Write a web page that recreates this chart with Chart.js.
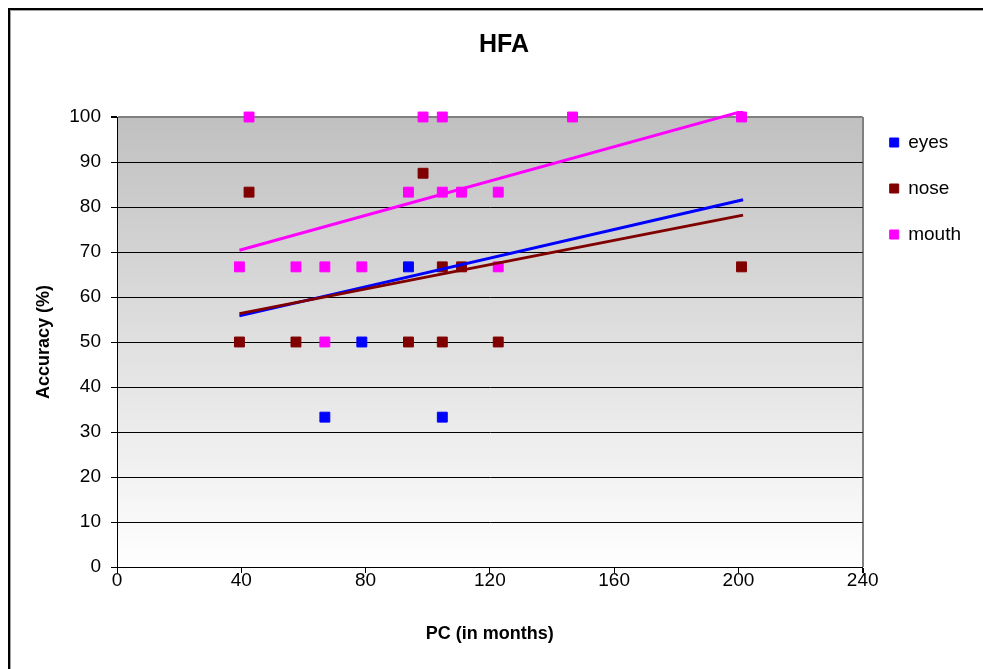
<!DOCTYPE html>
<html>
<head>
<meta charset="utf-8">
<script src="https://cdn.jsdelivr.net/npm/chart.js@4.4.0/dist/chart.umd.min.js"></script>
<style>
  html, body { margin: 0; padding: 0; background: #fff; overflow: hidden; }
  #frame {
    position: absolute; left: 8px; top: 8px; width: 2000px; height: 2000px;
    border-left: 2px solid #000; border-top: 2px solid #000;
    box-shadow: inset 1px 1px 0 #a0a0a0;
  }
  #wrap { position: absolute; left: 0; top: 0; width: 983px; height: 669px; }
</style>
</head>
<body>
<div id="frame"></div>
<div id="wrap"><canvas id="chart"></canvas></div>
<script>
// --- Data ---
const seriesNames = ['eyes', 'nose', 'mouth'];
const seriesColors = ['#0000ff', '#800000', '#ff00ff'];

const eyesX = [66.9, 78.8, 93.8, 104.7];
const eyesY = [33.3, 50, 66.7, 33.3];

const noseX = [39.4, 42.5, 57.6, 93.8, 98.5, 104.7, 104.7, 110.9, 122.7, 201];
const noseY = [50, 83.3, 50, 50, 87.5, 66.7, 50, 66.7, 50, 66.7];

const mouthX = [39.4, 42.5, 57.6, 66.9, 66.9, 78.8, 93.8, 98.5, 104.7, 104.7, 110.9, 122.7, 122.7, 146.6, 201];
const mouthY = [66.7, 100, 66.7, 66.7, 50, 66.7, 83.3, 100, 100, 83.3, 83.3, 83.3, 66.7, 100, 100];

// linear trendlines: end points as they appear in the picture
const trendX = [39.4, 201.5];
const eyesTrendY = [55.8, 81.6];
const noseTrendY = [56.3, 78.2];
const mouthTrendY = [70.4, 101.3];

const xTicks = [0, 40, 80, 120, 160, 200, 240];
const yTicks = [0, 10, 20, 30, 40, 50, 60, 70, 80, 90, 100];

function toPoints(xs, ys) {
    return xs.map((x, i) => ({ x: x, y: ys[i] }));
}

// --- Plot area gradient ---
const plotBackground = {
    id: 'plotBackground',
    beforeDraw(chart) {
        const { ctx, chartArea: a } = chart;
        const g = ctx.createLinearGradient(0, a.top, 0, a.bottom);
        g.addColorStop(0, '#c0c0c0');
        g.addColorStop(1, '#ffffff');
        ctx.save();
        ctx.fillStyle = g;
        ctx.fillRect(a.left, a.top, a.width, a.height);
        ctx.restore();
    }
};

Chart.defaults.font.family = 'Arial, "Liberation Sans", sans-serif';
Chart.defaults.color = '#000';

function pointSet(i, xs, ys, order) {
    return {
        label: seriesNames[i],
        data: toPoints(xs, ys),
        backgroundColor: seriesColors[i],
        borderColor: seriesColors[i],
        borderWidth: 1,
        pointStyle: 'rect',
        pointRadius: 7,
        pointHoverRadius: 7,
        showLine: false,
        order: order,
        clip: false
    };
}

function trendSet(i, ys, order) {
    return {
        label: seriesNames[i] + ' trend',
        data: toPoints(trendX, ys),
        borderColor: seriesColors[i],
        backgroundColor: seriesColors[i],
        borderWidth: 3,
        pointRadius: 0,
        showLine: true,
        order: order,
        clip: 6
    };
}

const ctx = document.getElementById('chart').getContext('2d');
new Chart(ctx, {
    type: 'scatter',
    data: {
        datasets: [
            pointSet(0, eyesX, eyesY, 3),
            pointSet(1, noseX, noseY, 2),
            pointSet(2, mouthX, mouthY, 1),
            trendSet(0, eyesTrendY, -1),
            trendSet(1, noseTrendY, -2),
            trendSet(2, mouthTrendY, -3)
        ]
    },
    options: {
        responsive: true,
        maintainAspectRatio: false,
        animation: false,
        layout: { padding: { left: 37, right: 12, top: 0, bottom: 0 } },
        scales: {
            x: {
                type: 'linear',
                min: 0,
                max: 240,
                afterBuildTicks: (scale) => { scale.ticks = xTicks.map(v => ({ value: v })); },
                afterFit: (scale) => { scale.height = 102; },
                ticks: { font: { size: 19 }, padding: -4, maxRotation: 0 },
                grid: {
                    color: (c) => (c.tick && c.tick.value === 240 ? '#808080' : 'rgba(0,0,0,0)'),
                    lineWidth: (c) => (c.tick && c.tick.value === 240 ? 2 : 1),
                    tickColor: '#000',
                    tickLength: 6
                },
                border: { color: '#000', width: 1 },
                title: {
                    display: true,
                    text: 'PC (in months)',
                    font: { size: 18, weight: 'bold' },
                    padding: { top: 0, bottom: 24 }
                }
            },
            y: {
                type: 'linear',
                min: 0,
                max: 100,
                afterBuildTicks: (scale) => { scale.ticks = yTicks.map(v => ({ value: v })); },
                afterFit: (scale) => { scale.width = 80; },
                ticks: { font: { size: 19 }, padding: 10 },
                grid: {
                    color: (c) => (c.tick && c.tick.value === 100 ? '#808080' : '#000'),
                    lineWidth: (c) => (c.tick && c.tick.value === 100 ? 2 : 1),
                    tickColor: '#000',
                    tickLength: 6
                },
                border: { color: '#000', width: 1 },
                title: {
                    display: true,
                    text: 'Accuracy (%)',
                    font: { size: 18, weight: 'bold' },
                    padding: { top: -4, bottom: 0 }
                }
            }
        },
        plugins: {
            title: {
                display: true,
                text: 'HFA',
                font: { size: 25, weight: 'bold' },
                padding: { top: 30, bottom: 57 }
            },
            legend: {
                position: 'right',
                align: 'start',
                title: { display: true, text: ' ', font: { size: 10 }, padding: { top: 94, bottom: 0 } },
                labels: {
                    font: { size: 19 },
                    boxWidth: 9,
                    boxHeight: 9,
                    padding: 27,
                    filter: (item) => item.datasetIndex < 3,
                    sort: (a, b) => a.datasetIndex - b.datasetIndex
                }
            },
            tooltip: { enabled: false }
        }
    },
    plugins: [plotBackground]
});
</script>
</body>
</html>
